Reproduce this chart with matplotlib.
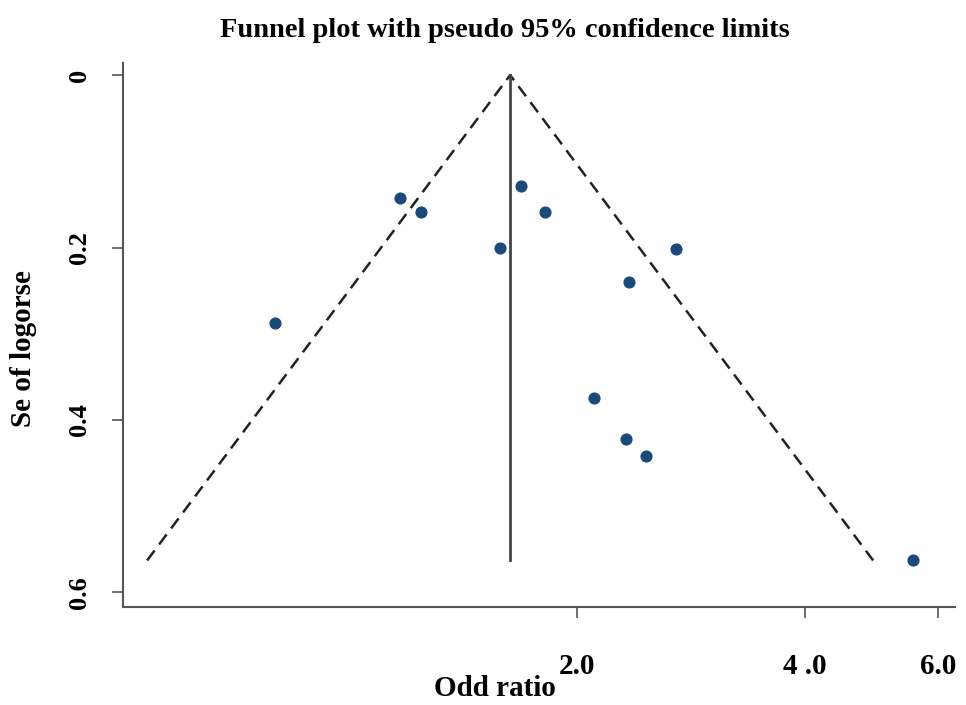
import numpy as np
import matplotlib
matplotlib.use("Agg")
import matplotlib.pyplot as plt

# study estimates
odds_ratio = [1.168, 1.245, 1.687, 1.815, 1.583, 2.70, 2.342, 0.799, 2.106, 2.32, 2.47, 5.55]
se_logor = [0.143, 0.159, 0.129, 0.159, 0.201, 0.202, 0.240, 0.287, 0.374, 0.422, 0.442, 0.563]

pooled_or = 1.632
se_max = 0.563

x_ticks = [2.0, 4.0, 6.0]
x_tick_labels = ["2.0", "4 .0", "6.0"]
y_ticks = [0, 0.2, 0.4, 0.6]
y_tick_labels = ["0", "0.2", "0.4", "0.6"]


def main():
    plt.rcParams["font.family"] = ["Liberation Serif", "DejaVu Serif"]
    plt.rcParams["font.weight"] = "bold"

    fig = plt.figure(figsize=(9.66, 7.05), dpi=100)
    ax = fig.add_axes([0.1273, 0.139, 0.8613, 0.7716])

    # pseudo 95% limits
    lo = np.exp(np.log(pooled_or) - 1.96 * se_max)
    hi = np.exp(np.log(pooled_or) + 1.96 * se_max)
    ax.plot([lo, pooled_or, hi], [se_max, 0, se_max], color="#222222",
            linestyle=(0, (5, 3)), linewidth=1.8)
    ax.plot([pooled_or, pooled_or], [0, se_max], color="#444444", linewidth=2)

    ax.scatter(odds_ratio, se_logor, s=60, color="#1b4a7a", zorder=3)

    ax.set_xscale("log")
    ax.set_xlim(0.503, 6.31)
    ax.set_ylim(0.617, -0.014)

    ax.set_xticks(x_ticks)
    ax.set_xticklabels(x_tick_labels, fontsize=21)
    ax.xaxis.set_minor_locator(matplotlib.ticker.NullLocator())
    ax.set_yticks(y_ticks)
    ax.set_yticklabels(y_tick_labels, fontsize=19, rotation=90, va="center")

    ax.tick_params(axis="x", length=8, width=1.2, color="#555555", pad=25)
    ax.tick_params(axis="y", length=8, width=1.2, color="#555555", pad=15)

    for side in ["top", "right"]:
        ax.spines[side].set_visible(False)
    for side in ["left", "bottom"]:
        ax.spines[side].set_color("#555555")
        ax.spines[side].set_linewidth(1.5)

    fig.text(0.512, 0.024, "Odd ratio", ha="center", va="center",
             fontsize=21, fontweight="bold")
    fig.text(0.024, 0.505, "Se of logorse", ha="center", va="center",
             rotation=90, fontsize=21, fontweight="bold")
    fig.text(0.523, 0.957, "Funnel plot with pseudo 95% confidence limits",
             ha="center", va="center", fontsize=20.5, fontweight="bold")

    fig.savefig("out.png", dpi=100)
    plt.close(fig)


if __name__ == "__main__":
    main()
